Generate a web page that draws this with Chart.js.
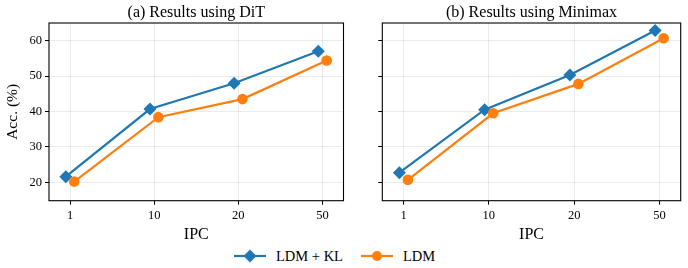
<!DOCTYPE html>
<html>
<head>
<meta charset="utf-8">
<script src="https://cdn.jsdelivr.net/npm/chart.js@4"></script>
<style>
  html, body { margin: 0; padding: 0; background: #fff; }
  #wrap { position: relative; width: 688px; height: 268px; overflow: hidden; font-family: "Liberation Serif", serif; }
  .box { position: absolute; top: 0; height: 246px; }
  .leg { position: absolute; top: 246px; height: 20px; display: flex; align-items: center; font-size: 14.5px; color: #000; }
  .leg canvas { margin-right: 10px; }
</style>
</head>
<body>
<div id="wrap">
  <div class="box" style="left:0;width:350px"><canvas id="left"></canvas></div>
  <div class="box" style="left:352px;width:336px"><canvas id="right"></canvas></div>
  <div class="leg" style="left:234px"><canvas id="legKL" width="32" height="16"></canvas>LDM + KL</div>
  <div class="leg" style="left:361px"><canvas id="legLDM" width="32" height="16"></canvas>LDM</div>
</div>
<script>
const ipcLabels = ['1', '10', '20', '50'];
const yTicks = [20, 30, 40, 50, 60];

const ditKL = [21.6, 40.7, 48.0, 57.0];
const ditLDM = [20.2, 38.4, 43.5, 54.4];
const minimaxKL = [22.7, 40.5, 50.3, 62.9];
const minimaxLDM = [20.7, 39.5, 47.8, 60.7];

const BLUE = '#1f77b4';
const ORANGE = '#ff7f0e';
const FONT = 'Liberation Serif';

const framePlugin = {
  id: 'frame',
  afterDraw(chart, args, opts) {
    const { ctx, chartArea: a } = chart;
    ctx.save();
    ctx.strokeStyle = '#000';
    ctx.lineWidth = 1.1;
    ctx.strokeRect(a.left, a.top, a.right - a.left, a.bottom - a.top);
    ctx.fillStyle = '#000';
    ctx.font = '16px "' + FONT + '"';
    ctx.textAlign = 'center';
    ctx.textBaseline = 'middle';
    ctx.fillText(opts.text, (a.left + a.right) / 2, 12.5);
    ctx.restore();
  }
};

function points(vals, shift) {
  return vals.map((v, i) => ({ x: i + shift, y: v }));
}

function makeChart(id, title, kl, ldm, showY, yWidth, padRight) {
  return new Chart(document.getElementById(id), {
    type: 'line',
    data: {
      datasets: [{
        label: 'LDM + KL',
        data: points(kl, -0.05),
        borderColor: BLUE,
        backgroundColor: BLUE,
        borderWidth: 2.2,
        pointStyle: 'rectRot',
        pointRadius: 6.5,
        pointBorderWidth: 0,
        order: 1
      }, {
        label: 'LDM',
        data: points(ldm, 0.05),
        borderColor: ORANGE,
        backgroundColor: ORANGE,
        borderWidth: 2.2,
        pointStyle: 'circle',
        pointRadius: 5.3,
        pointBorderWidth: 0,
        order: 0
      }]
    },
    options: {
      responsive: true,
      maintainAspectRatio: false,
      animation: false,
      layout: { padding: { top: 23, right: padRight, left: 0, bottom: 0 } },
      plugins: {
        legend: { display: false },
        tooltip: { enabled: false },
        frame: { text: title }
      },
      scales: {
        x: {
          type: 'linear',
          min: -0.25,
          max: 3.25,
          afterBuildTicks: s => { s.ticks = ipcLabels.map((_, i) => ({ value: i })); },
          afterFit: s => { s.height = 45.3; },
          border: { display: false },
          grid: { color: 'rgba(0,0,0,0.08)', tickColor: '#000', tickLength: 4 },
          ticks: {
            color: '#000', padding: 4,
            font: { family: FONT, size: 12.5 },
            callback: v => ipcLabels[v],
            maxRotation: 0
          },
          title: { display: true, text: 'IPC', color: '#000', font: { family: FONT, size: 16 }, padding: { top: 2, bottom: 2 } }
        },
        y: {
          min: 14.8,
          max: 65,
          afterBuildTicks: s => { s.ticks = yTicks.map(v => ({ value: v })); },
          afterFit: s => { s.width = yWidth; },
          border: { display: false },
          grid: { color: 'rgba(0,0,0,0.08)', tickColor: '#000', tickLength: 4 },
          ticks: { display: showY, color: '#000', padding: 3, font: { family: FONT, size: 12.5 } },
          title: { display: showY, text: 'Acc. (%)', color: '#000', font: { family: FONT, size: 15.5 }, padding: { top: 4, bottom: 4 } }
        }
      }
    },
    plugins: [framePlugin]
  });
}

makeChart('left', '(a) Results using DiT', ditKL, ditLDM, true, 49, 2);
makeChart('right', '(b) Results using Minimax', minimaxKL, minimaxLDM, false, 30.3, 7.3);

function legendIcon(id, color, shape) {
  const ctx = document.getElementById(id).getContext('2d');
  ctx.strokeStyle = color;
  ctx.fillStyle = color;
  ctx.lineWidth = 2.2;
  ctx.beginPath();
  ctx.moveTo(0, 8);
  ctx.lineTo(32, 8);
  ctx.stroke();
  ctx.beginPath();
  if (shape === 'diamond') {
    ctx.moveTo(16, 1.5); ctx.lineTo(22.5, 8); ctx.lineTo(16, 14.5); ctx.lineTo(9.5, 8);
  } else {
    ctx.arc(16, 8, 5, 0, Math.PI * 2);
  }
  ctx.closePath();
  ctx.fill();
}
legendIcon('legKL', BLUE, 'diamond');
legendIcon('legLDM', ORANGE, 'circle');
</script>
</body>
</html>
